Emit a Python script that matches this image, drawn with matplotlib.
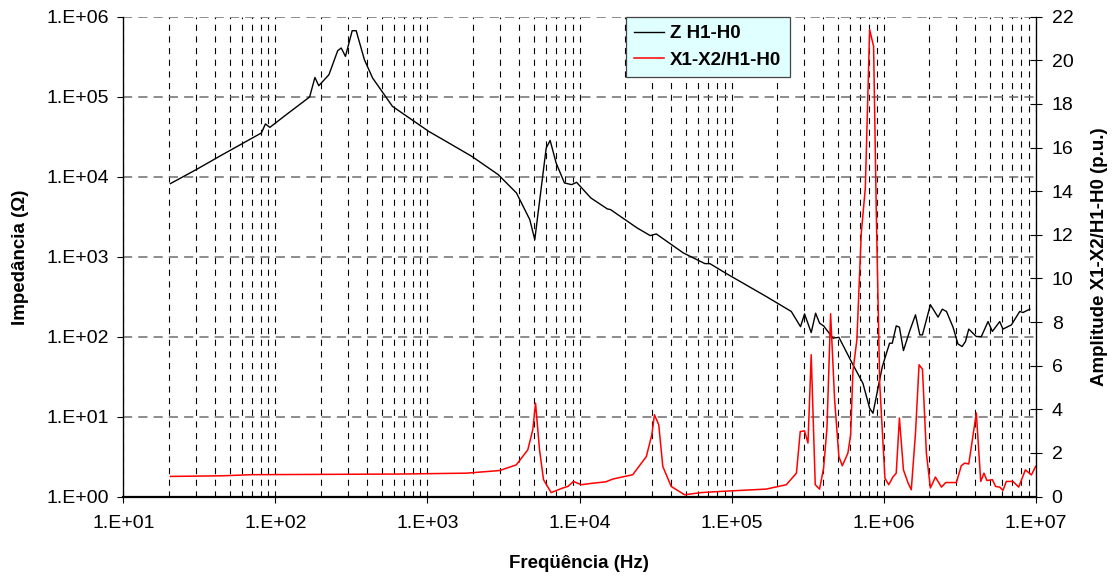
import numpy as np
import matplotlib
matplotlib.use("Agg")
import matplotlib.pyplot as plt
from matplotlib.ticker import FixedLocator, FuncFormatter, NullFormatter

plt.rcParams['font.family'] = ['Liberation Sans', 'DejaVu Sans']

# --- DATA ---

# Z H1-H0, impedance (Ohm) vs frequency (Hz)
freq_z = [20.4, 30.3, 43, 81, 86, 92, 118, 168, 182, 193, 225, 257, 271, 289, 320, 340,
          385, 436, 589, 1020, 1380, 1960, 2920, 3850, 4710, 5080, 6040, 6410, 7020, 7960,
          8880, 9570, 11860, 15230, 16000, 23900, 29200, 32000, 48200, 66800, 72000, 92500,
          169000, 247000, 284000, 302000, 334000, 357000, 379000, 403000, 464000, 508000,
          613000, 731000, 809000, 851000, 980000, 1094000, 1140000, 1210000, 1270000,
          1350000, 1480000, 1620000, 1730000, 1800000, 2030000, 2280000, 2430000, 2590000,
          2860000, 3080000, 3280000, 3450000, 3630000, 4070000, 4390000, 4860000, 5190000,
          5800000, 6090000, 6920000, 7850000, 8250000, 9140000]
z_vals = [8180, 12300, 18000, 35200, 45600, 41300, 59600, 99100, 174000, 137000, 188000,
          376000, 406000, 319000, 668000, 668000, 290000, 171000, 75600, 36800, 26400,
          17900, 10600, 6250, 2900, 1630, 22800, 28400, 14800, 8340, 7940, 8490, 5420, 3950,
          3870, 2285, 1830, 1920, 1110, 817, 817, 613, 317, 206, 133, 192, 112, 196, 147,
          136, 95.5, 98, 48.7, 26, 12.7, 11, 42, 82.6, 82.6, 136, 131, 66.8, 116, 187, 105,
          105, 250, 175, 220, 206, 131, 81, 75, 86.5, 124, 100, 100, 154, 116, 154, 124,
          140, 206, 200, 220]

# X1-X2/H1-H0 amplitude (p.u.) vs frequency (Hz)
freq_x = [20.4, 45, 70, 655, 1800, 2980, 3840, 4570, 4930, 5140, 5460, 5800, 6510, 7770,
          8380, 9130, 10260, 12240, 14840, 16570, 22400, 27500, 29900, 31100, 33200, 35300,
          40100, 49100, 63200, 83400, 169000, 229000, 267000, 283000, 302000, 318000,
          334000, 355000, 379000, 403000, 424000, 448000, 476000, 508000, 535000, 582000,
          607000, 628000, 667000, 713000, 758000, 809000, 859000, 895000, 942000, 1020000,
          1080000, 1150000, 1210000, 1270000, 1350000, 1450000, 1520000, 1620000, 1710000,
          1800000, 1910000, 2030000, 2190000, 2400000, 2560000, 3010000, 3240000, 3410000,
          3630000, 4070000, 4350000, 4570000, 4780000, 5190000, 5450000, 5800000, 6090000,
          6410000, 7090000, 7730000, 8550000, 9370000, 10000000]
x_vals = [0.92, 0.95, 1.0, 1.03, 1.07, 1.19, 1.45, 2.14, 3.06, 4.28, 2.14, 0.77, 0.18, 0.39,
          0.46, 0.69, 0.54, 0.61, 0.67, 0.80, 1.0, 1.83, 2.83, 3.75, 3.29, 1.38, 0.46, 0.08,
          0.18, 0.23, 0.34, 0.54, 1.07, 2.98, 3.01, 2.45, 6.50, 0.54, 0.34, 1.30, 3.14, 8.38,
          4.44, 1.83, 1.41, 1.99, 2.83, 5.73, 7.19, 12.08, 14.15, 21.41, 20.64, 13.0, 5.20,
          0.84, 0.54, 0.89, 1.07, 3.60, 1.22, 0.61, 0.31, 2.91, 6.04, 5.84, 1.99, 0.39, 0.89,
          0.43, 0.64, 0.64, 1.41, 1.53, 1.49, 3.83, 0.69, 1.07, 0.73, 0.77, 0.46, 0.43, 0.28,
          0.69, 0.69, 0.43, 1.22, 0.99, 1.38]

x_decades = [1e1, 1e2, 1e3, 1e4, 1e5, 1e6, 1e7]
y_decades = [1e0, 1e1, 1e2, 1e3, 1e4, 1e5, 1e6]
right_ticks = list(range(0, 23, 2))

# --- PLOT ---

fig = plt.figure(figsize=(11.15, 5.81), dpi=100)
ax = fig.add_axes([123.3 / 1115, (581 - 496.5) / 581, 912.4 / 1115, 479.8 / 581])
ax2 = ax.twinx()

sci = FuncFormatter(lambda v, p: "1.E+%02d" % int(round(np.log10(v))))

ax.set_xscale('log')
ax.set_yscale('log')
ax.set_xlim(10, 1e7)
ax.set_ylim(1, 1e6)
x_minor = [m * d for d in x_decades[:-1] for m in range(2, 10)]
ax.xaxis.set_major_locator(FixedLocator(x_decades))
ax.xaxis.set_minor_locator(FixedLocator(x_minor))
ax.xaxis.set_major_formatter(sci)
ax.xaxis.set_minor_formatter(NullFormatter())
ax.yaxis.set_major_locator(FixedLocator(y_decades))
ax.yaxis.set_minor_locator(FixedLocator([]))
ax.yaxis.set_major_formatter(sci)

ax.grid(True, which='both', axis='x', color='black', lw=0.8, linestyle=(0, (5.5, 5)))
ax.grid(True, which='major', axis='y', color='#6e6e6e', lw=1.1, linestyle=(0, (6, 4)))

ax.plot(freq_z, z_vals, color='black', lw=1.0, label='Z H1-H0')
ax2.plot(freq_x, x_vals, color='#ff0000', lw=1.1, label='X1-X2/H1-H0')

ax2.set_ylim(0, 22)
ax2.yaxis.set_major_locator(FixedLocator(right_ticks))

ax.tick_params(axis='both', which='major', direction='out', length=4.5, width=0.8,
               labelsize=14, pad=6)
ax.tick_params(axis='x', which='minor', length=0)
ax.tick_params(axis='x', which='major', pad=9)
ax2.tick_params(axis='y', direction='inout', length=9, width=0.8, labelsize=14, pad=7)

for a in (ax, ax2):
    a.spines['top'].set_visible(False)
ax.spines['bottom'].set_linewidth(1.6)
ax2.spines['bottom'].set_visible(False)
ax.spines['left'].set_linewidth(0.9)
ax2.spines['right'].set_linewidth(0.9)

fig.text(21 / 1115, 1 - 257 / 581, 'Impedância (Ω)', rotation=90, ha='center', va='center',
         fontsize=13.5, fontweight='bold')
fig.text(1100 / 1115, 1 - 257 / 581, 'Amplitude X1-X2/H1-H0 (p.u.)', rotation=90,
         ha='center', va='center', fontsize=13.5, fontweight='bold')
fig.text(579 / 1115, 1 - 563 / 581, 'Freqüência (Hz)', ha='center', va='center',
         fontsize=13.5, fontweight='bold')

h1, l1 = ax.get_legend_handles_labels()
h2, l2 = ax2.get_legend_handles_labels()
leg = ax2.legend(h1 + h2, l1 + l2, loc='upper left', bbox_to_anchor=(0.551, 1.0),
                 borderaxespad=0, fancybox=False, framealpha=1, facecolor='#e0ffff',
                 edgecolor='#444444', handlelength=1.6, handletextpad=0.3,
                 labelspacing=0.5, borderpad=0.45, prop={'weight': 'bold', 'size': 13.5})
leg.get_frame().set_linewidth(0.9)

fig.savefig('out.png', dpi=100)
